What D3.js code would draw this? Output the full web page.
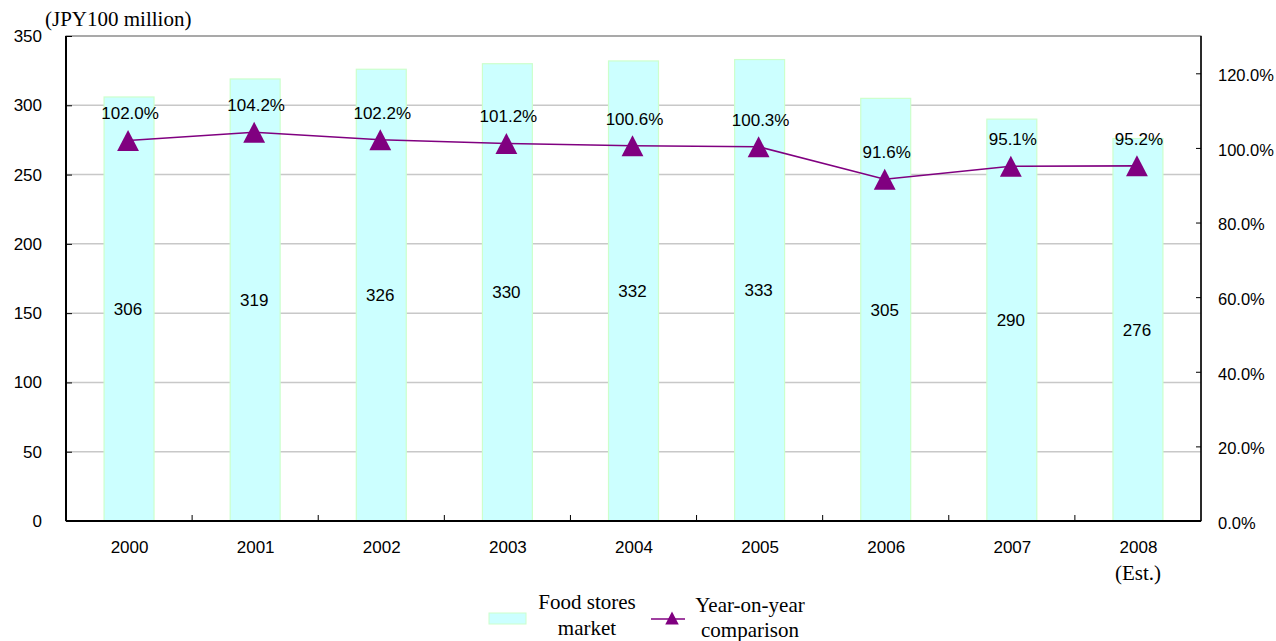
<!DOCTYPE html>
<html><head><meta charset="utf-8">
<script src="https://cdn.jsdelivr.net/npm/d3@7"></script>
<style>body{margin:0;background:#fff}svg{display:block}</style>
</head><body>
<svg id="c" width="1276" height="641"></svg>
<script>
const categories = ["2000","2001","2002","2003","2004","2005","2006","2007","2008"];
const subLabels = ["","","","","","","","","(Est.)"];
const marketValues = [306,319,326,330,332,333,305,290,276];
const yoyValues = [102.0,104.2,102.2,101.2,100.6,100.3,91.6,95.1,95.2];
const leftTicks = [0,50,100,150,200,250,300,350];
const rightTicks = [0,20,40,60,80,100,120];

const svg = d3.select("#c");
const L = 66, R = 1201, T = 36, B = 521;
const sans = "'Liberation Sans', Arial, sans-serif";
const serif = "'Liberation Serif', 'Times New Roman', serif";

const x = d3.scaleBand().domain(categories).range([L, R]).paddingInner(0.596).paddingOuter(0.298);
const xc = d3.scalePoint().domain(categories).range([L, R]).padding(0.5);
const y = d3.scaleLinear().domain([0, 350]).range([B, T]);
const y2 = d3.scaleLinear().domain([0, 130]).range([B, T]);

// gridlines
svg.append("g").selectAll("line").data(leftTicks.filter(d => d > 0 && d < 350)).join("line")
  .attr("x1", L).attr("x2", R).attr("y1", d => y(d)).attr("y2", d => y(d))
  .attr("stroke", "#c8c8c8").attr("stroke-width", 1.5);

// bars
svg.append("g").selectAll("rect").data(marketValues).join("rect")
  .attr("x", (d, i) => x(categories[i]) + 0.5).attr("width", x.bandwidth() - 1)
  .attr("y", d => y(d)).attr("height", d => B - y(d))
  .attr("fill", "#ccffff").attr("stroke", "#ccffcc").attr("stroke-width", 1.2);

// frame
svg.append("rect").attr("x", L).attr("y", T).attr("width", R - L).attr("height", B - T)
  .attr("fill", "none").attr("stroke", "#555").attr("stroke-width", 1);
svg.append("line").attr("x1", L).attr("x2", L).attr("y1", T).attr("y2", B).attr("stroke", "#000").attr("stroke-width", 2);
svg.append("line").attr("x1", R).attr("x2", R).attr("y1", T).attr("y2", B).attr("stroke", "#000").attr("stroke-width", 1.5);
svg.append("line").attr("x1", L).attr("x2", R).attr("y1", B).attr("y2", B).attr("stroke", "#000").attr("stroke-width", 2);

// left axis
const gl = svg.append("g").attr("transform", `translate(${L},0)`)
  .call(d3.axisLeft(y).tickValues(leftTicks).tickSize(-6).tickPadding(24));
gl.select(".domain").remove();
gl.selectAll("line").attr("stroke", "#000");
gl.selectAll("text").attr("font-family", sans).attr("font-size", 17).attr("fill", "#000");

// right axis
const gr = svg.append("g").attr("transform", `translate(${R},0)`)
  .call(d3.axisRight(y2).tickValues(rightTicks).tickSize(-5).tickPadding(17).tickFormat(d => d.toFixed(1) + "%"));
gr.select(".domain").remove();
gr.selectAll("line").attr("stroke", "#000");
gr.selectAll("text").attr("font-family", sans).attr("font-size", 16.5).attr("fill", "#000").attr("transform", "translate(0,2)");

// bottom axis
const gb = svg.append("g").attr("transform", `translate(0,${B})`)
  .call(d3.axisBottom(xc).tickSize(0).tickPadding(20));
gb.select(".domain").remove();
gb.selectAll("text").attr("font-family", sans).attr("font-size", 17).attr("fill", "#000");
// category boundary ticks
const step = x.step();
svg.append("g").selectAll("line").data(categories.slice(1)).join("line")
  .attr("x1", d => xc(d) - step / 2).attr("x2", d => xc(d) - step / 2)
  .attr("y1", B).attr("y2", B - 6).attr("stroke", "#000");
svg.append("g").selectAll("text").data(subLabels).join("text")
  .attr("x", (d, i) => xc(categories[i])).attr("y", 573).attr("dy", "0.35em")
  .attr("text-anchor", "middle").attr("font-family", serif).attr("font-size", 21).text(d => d);

// unit
svg.append("text").attr("x", 45).attr("y", 19).attr("dy", "0.35em")
  .attr("font-family", serif).attr("font-size", 21).text("(JPY100 million)");

// bar value labels
svg.append("g").selectAll("text").data(marketValues).join("text")
  .attr("x", (d, i) => xc(categories[i]) - 1).attr("y", d => (y(d) + B) / 2).attr("dy", "0.35em")
  .attr("text-anchor", "middle").attr("font-family", sans).attr("font-size", 17).text(d => d);

// line
const line = d3.line().x((d, i) => xc(categories[i]) - 1).y(d => y2(d));
svg.append("path").datum(yoyValues).attr("d", line).attr("fill", "none")
  .attr("stroke", "#800080").attr("stroke-width", 1.6);
const tri = (s) => `M0,${-s/2}L${s*0.52},${s/2}L${-s*0.52},${s/2}Z`;
svg.append("g").selectAll("path").data(yoyValues).join("path")
  .attr("transform", (d, i) => `translate(${xc(categories[i]) - 1},${y2(d)})`)
  .attr("d", tri(21)).attr("fill", "#800080");
svg.append("g").selectAll("text").data(yoyValues).join("text")
  .attr("x", (d, i) => xc(categories[i]) + 1).attr("y", d => y2(d) - 27).attr("dy", "0.35em")
  .attr("text-anchor", "middle").attr("font-family", sans).attr("font-size", 17).text(d => d.toFixed(1) + "%");

// legend
const lg = svg.append("g");
lg.append("rect").attr("x", 489).attr("y", 613).attr("width", 37).attr("height", 11)
  .attr("fill", "#ccffff").attr("stroke", "#ccffcc");
lg.append("text").attr("x", 587).attr("y", 602).attr("dy", "0.35em").attr("text-anchor", "middle")
  .attr("font-family", serif).attr("font-size", 21).text("Food stores");
lg.append("text").attr("x", 587).attr("y", 628).attr("dy", "0.35em").attr("text-anchor", "middle")
  .attr("font-family", serif).attr("font-size", 21).text("market");
lg.append("line").attr("x1", 651).attr("x2", 685).attr("y1", 619).attr("y2", 619)
  .attr("stroke", "#800080").attr("stroke-width", 1.6);
lg.append("path").attr("transform", "translate(672,618)").attr("d", tri(13)).attr("fill", "#800080");
lg.append("text").attr("x", 750).attr("y", 605).attr("dy", "0.35em").attr("text-anchor", "middle")
  .attr("font-family", serif).attr("font-size", 21).text("Year-on-year");
lg.append("text").attr("x", 750).attr("y", 630).attr("dy", "0.35em").attr("text-anchor", "middle")
  .attr("font-family", serif).attr("font-size", 21).text("comparison");
</script>
</body></html>
